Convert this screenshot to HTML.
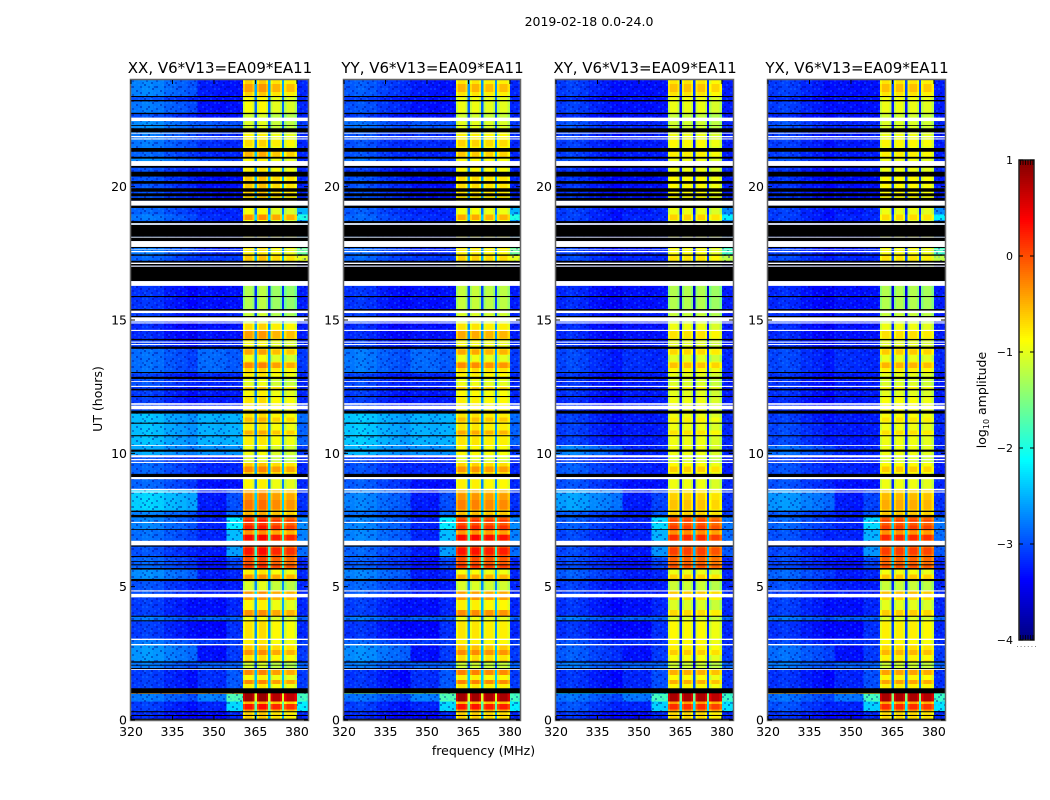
<!DOCTYPE html>
<html lang="en">
<head>
<meta charset="utf-8">
<title>2019-02-18 0.0-24.0</title>
<style>
html,body{margin:0;padding:0;background:#fff;}
svg{display:block;}
text{font-family:"DejaVu Sans","Liberation Sans",sans-serif;fill:#000;}
</style>
</head>
<body>
<svg id="chart" xmlns="http://www.w3.org/2000/svg" width="1050" height="800" viewBox="0 0 1050 800">
  <defs>
    <pattern id="speckle" patternUnits="userSpaceOnUse" width="24" height="14">
      <rect x="0" y="0" width="2" height="2" fill="#000090" opacity=".42"/>
      <rect x="6" y="0" width="2" height="2" fill="#20a0ff" opacity=".25"/>
      <rect x="12" y="2" width="2" height="2" fill="#000090" opacity=".42"/>
      <rect x="18" y="0" width="2" height="2" fill="#20a0ff" opacity=".22"/>
      <rect x="2" y="4" width="2" height="2" fill="#20a0ff" opacity=".25"/>
      <rect x="8" y="4" width="2" height="2" fill="#000090" opacity=".42"/>
      <rect x="16" y="6" width="2" height="2" fill="#000090" opacity=".4"/>
      <rect x="22" y="4" width="2" height="2" fill="#20a0ff" opacity=".22"/>
      <rect x="4" y="8" width="2" height="2" fill="#000090" opacity=".42"/>
      <rect x="10" y="8" width="2" height="2" fill="#20a0ff" opacity=".25"/>
      <rect x="20" y="8" width="2" height="2" fill="#000090" opacity=".4"/>
      <rect x="0" y="12" width="2" height="2" fill="#20a0ff" opacity=".22"/>
      <rect x="14" y="12" width="2" height="2" fill="#20a0ff" opacity=".25"/>
      <rect x="7" y="12" width="2" height="2" fill="#000090" opacity=".4"/>
      <rect x="14" y="6" width="2" height="2" fill="#20a0ff" opacity=".18"/>
      <rect x="18" y="10" width="2" height="2" fill="#20a0ff" opacity=".18"/>
      <rect x="2" y="10" width="2" height="2" fill="#000090" opacity=".35"/>
      <rect x="10" y="2" width="2" height="2" fill="#000090" opacity=".35"/>
      <rect x="20" y="2" width="2" height="2" fill="#000090" opacity=".35"/>
      <rect x="12" y="10" width="2" height="2" fill="#000090" opacity=".35"/>
      <rect x="4" y="2" width="2" height="2" fill="#000090" opacity=".3"/>
      <rect x="22" y="12" width="2" height="2" fill="#000090" opacity=".3"/>
    </pattern>
  </defs>
  <rect x="0" y="0" width="1050" height="800" fill="#fff"/>
  <text x="589" y="26" font-size="12.5" text-anchor="middle">2019-02-18 0.0-24.0</text>
  <text x="483.5" y="755" font-size="12.5" text-anchor="middle">frequency (MHz)</text>
  <text x="102" y="399" font-size="12.5" text-anchor="middle" transform="rotate(-90 102 399)">UT (hours)</text>
  <text x="986" y="400" font-size="12.5" text-anchor="middle" transform="rotate(-90 986 400)">log<tspan font-size="8" dy="3">10</tspan><tspan dy="-3"> amplitude</tspan></text>
</svg>
<script>
// ---- categories and tick labels ----
const panelTitles = ["XX, V6*V13=EA09*EA11","YY, V6*V13=EA09*EA11","XY, V6*V13=EA09*EA11","YX, V6*V13=EA09*EA11"];
const xTickLabels = [320,335,350,365,380];
const yTickLabels = [0,5,10,15,20];
const colorbarTickLabels = [1,0,-1,-2,-3,-4];

// ---- frequency channels (MHz) ----
const freqEdges = [320,324,328,332,336,340,344,348,351,354.5,360.5,361.3,363.9,364.7,365.5,366.3,368.8,369.6,370.4,371.2,373.8,374.6,375.4,376.2,379.2,380,384];
const columnGroups = ["left","left","left","left","left","left","mid","mid","mid","shoulder","b0","b0","b0","gap","b1","b1","b1","gap","b2","b2","b2","gap","b3","b3","b3","right"];
const columnTweaks = [0.1,0.15,0.1,0,-0.05,-0.12,0,0,-0.03,0,-0.2,0,-0.2,0,-0.2,0,-0.2,0,-0.2,0,-0.2,0,-0.2,0,-0.2,0];

// ---- time bins (UT hours, top to bottom) ----
const binEdges = [24,23.4,23.2,22.72,22.46,22.04,21.45,21.05,20.78,20.4,19.6,19.29,18.95,18.75,18,17.41,17.15,16.28,15.26,14.87,14.24,13.92,13,12.8,12.5,12.15,11.6,11.15,10.3,9.93,9.64,9.23,8.67,7.85,7.6,7.13,6.72,6.1,5.7,5.29,4.86,4.6,3.9,3.72,3.05,2.85,2.2,1.95,1.19,0.7,0.33,0];

// ---- log10 amplitude per time bin ----
const leftXX = [-2.85,-3.1,-2.9,-3.1,-2.8,-2.9,-3,-2.8,-3.1,-3.1,
 -3.1,-3,-2.9,-3,-2.9,-3,-3.2,-3.25,-3.2,-3.3,
 -3.2,-2.95,-3.2,-3.1,-3.2,-3.2,-2.55,-2.55,-2.65,-3.1,
 -3,-3,-2.45,-2.85,-2.85,-2.95,-3.1,-3,-2.8,-3.1,
 -3.1,-3.2,-2.9,-3.2,-2.9,-2.75,-2.9,-3.2,-2.9,-3.2,-3.3];
const leftYY = [-3.05,-3.2,-3.1,-3.2,-2.95,-3.1,-3.1,-2.95,-3.2,-3.1,
 -3.1,-3.05,-3,-3,-3,-3,-3.2,-3.25,-3.2,-3.3,
 -3.2,-2.9,-3.2,-3.15,-3.2,-3.2,-2.5,-2.5,-2.6,-3.15,
 -3.1,-3.05,-2.85,-2.95,-2.85,-2.85,-3,-3.05,-2.85,-3,
 -3.05,-3.2,-2.9,-3.25,-3,-2.8,-2.9,-3.25,-2.95,-3.2,-3.3];
const leftXY = [-3.2,-3.3,-3.2,-3.3,-3.1,-3.2,-3.2,-3.1,-3.25,-3.25,
 -3.2,-3.2,-3.2,-3.2,-3.2,-3.15,-3.3,-3.3,-3.25,-3.3,
 -3.25,-3.15,-3.25,-3.25,-3.25,-3.3,-3.2,-3.2,-2.85,-3.2,
 -3.05,-3.1,-2.7,-3.05,-3.05,-3.15,-3.15,-3.15,-3.05,-3.2,
 -3.2,-3.25,-2.9,-3.25,-3.1,-3.05,-2.9,-3.25,-2.95,-3.1,-3.25];
const leftYX = [-3.2,-3.3,-3.2,-3.3,-3.1,-3.2,-3.2,-3.1,-3.25,-3.25,
 -3.2,-3.2,-3.2,-3.2,-3.2,-3.15,-3.3,-3.3,-3.25,-3.3,
 -3.25,-3.15,-3.25,-3.25,-3.25,-3.3,-3.2,-3.15,-2.95,-3.2,
 -3.1,-3.1,-2.75,-3.05,-3,-3.1,-3.15,-3.15,-3,-3.1,
 -3.2,-3.2,-2.9,-3.25,-3.15,-2.95,-2.9,-3.25,-2.95,-3.1,-3.25];
const midCo = [-3.25,-3.3,-3.3,-3.3,-2.95,-3.15,-3.2,-3,-3.2,-3.3,
 -3.25,-3.2,-3.15,-3.2,-3.2,-3.1,-3.3,-3.3,-3.25,-3.3,
 -3.2,-2.85,-3.2,-3.2,-3.25,-3.25,-2.5,-2.5,-2.65,-3.2,
 -3.2,-3.3,-3.25,-3.25,-3.2,-3.2,-3.25,-3.3,-3.25,-3.25,
 -3.25,-3.3,-2.9,-3.35,-3.1,-3.3,-2.9,-3.15,-2.75,-3.2,-3.35];
const midCross = [-3.3,-3.3,-3.3,-3.3,-3.2,-3.25,-3.25,-3.2,-3.25,-3.3,
 -3.25,-3.25,-3.2,-3.25,-3.25,-3.2,-3.3,-3.3,-3.25,-3.3,
 -3.25,-3.15,-3.25,-3.25,-3.25,-3.25,-3.25,-3.25,-3.2,-3.25,
 -3.2,-3.3,-3.25,-3.25,-3.2,-3.2,-3.25,-3.3,-3.25,-3.25,
 -3.25,-3.3,-2.9,-3.35,-3.15,-3.3,-2.9,-3.2,-2.8,-3.2,-3.35];
const shoulderCo = [-3.3,-3.3,-3.3,-3.3,-3,-3.2,-3.2,-3.1,-3.2,-3.3,
 -3.3,-3.2,-3.2,-3.2,-3.2,-3.1,-3.3,-3.3,-3.2,-3.3,
 -3.2,-2.95,-3.2,-3.2,-3.25,-3.25,-2.5,-2.5,-2.65,-3.2,
 -3.2,-3.3,-3,-2.85,-2.2,-2.45,-2.6,-3.05,-3.2,-3.25,
 -3.25,-3.2,-2.9,-3.15,-3.1,-3.1,-2.9,-2.95,-1.75,-2.3,-3.2];
const shoulderCross = [-3.3,-3.3,-3.3,-3.3,-3.2,-3.25,-3.25,-3.2,-3.25,-3.3,
 -3.3,-3.2,-3.2,-3.2,-3.2,-3.2,-3.3,-3.3,-3.25,-3.3,
 -3.25,-3.2,-3.25,-3.25,-3.25,-3.25,-3.25,-3.25,-3.2,-3.25,
 -3.25,-3.3,-3.05,-2.95,-2.3,-2.5,-2.65,-3.05,-3.2,-3.25,
 -3.25,-3.2,-2.9,-3.15,-3.15,-3.1,-2.9,-3,-1.8,-2.35,-3.2];
const rightCo = [-3.2,-3.2,-3.2,-3.2,-3.1,-3.2,-3.2,-3.2,-3.2,-3.2,
 -3.2,-2.5,-2,-2.6,-1.6,-1,-3.2,-3.25,-3.2,-3.25,
 -3.2,-3.1,-3.2,-3.2,-3.2,-3.2,-2.85,-2.9,-3.1,-3.2,
 -3.2,-3.2,-3.15,-3.1,-2.7,-2.75,-2.85,-3.2,-3.2,-3.2,
 -3.2,-3.2,-2.9,-3.2,-3.1,-3.1,-2.9,-3.1,-1.8,-2.2,-3.2];
const rightCross = [-3.25,-3.25,-3.25,-3.25,-3.2,-3.25,-3.25,-3.2,-3.2,-3.25,
 -3.2,-2.7,-2.2,-2.75,-1.8,-1.2,-3.2,-3.25,-3.25,-3.25,
 -3.25,-3.2,-3.25,-3.25,-3.25,-3.25,-3.2,-3.2,-3.2,-3.25,
 -3.25,-3.2,-3.15,-3.1,-2.8,-2.85,-2.95,-3.2,-3.2,-3.2,
 -3.2,-3.2,-2.9,-3.2,-3.15,-3.1,-2.9,-3.15,-1.85,-2.25,-3.2];
const blockXX = [-0.65,-0.9,-0.95,-1.1,-1.05,-0.85,-0.5,-0.85,-0.8,-0.6,
 -0.8,-0.9,-0.35,-0.9,-0.8,-0.6,-1.2,-1.25,-1.15,-0.7,
 -0.9,-0.7,-0.8,-1,-0.85,-0.75,-0.75,-0.8,-0.95,-1.05,
 -0.6,-0.85,-0.45,-0.5,0.05,0.1,0.05,0,-0.5,-0.8,
 -0.35,-0.65,-0.95,-0.75,-0.8,-0.6,-1.1,-0.55,0.85,0.2,-0.65];
const blockYY = [-0.75,-0.95,-1,-1.1,-1,-0.8,-0.6,-0.85,-0.85,-0.7,
 -0.8,-0.9,-0.45,-0.9,-0.8,-0.65,-1.2,-1.15,-1.05,-0.75,
 -0.9,-0.7,-0.8,-0.95,-0.85,-0.8,-0.75,-0.75,-0.85,-1,
 -0.65,-0.8,-0.5,-0.55,0,0.1,0.05,0,-0.6,-0.8,
 -0.4,-0.6,-0.95,-0.75,-0.8,-0.55,-1.1,-0.5,0.85,0.2,-0.65];
const blockXY = [-0.75,-0.95,-1,-1.15,-1.1,-0.95,-0.8,-0.95,-0.95,-0.85,
 -0.9,-0.95,-0.65,-1,-0.9,-0.75,-1.25,-1.25,-1.15,-0.95,
 -1,-0.85,-1,-1.05,-1,-0.95,-0.95,-0.95,-0.95,-1.05,
 -0.85,-0.95,-0.75,-0.65,-0.05,0,-0.1,-0.1,-0.75,-0.95,
 -0.6,-0.9,-1.05,-0.85,-0.85,-0.8,-1.1,-0.65,0.8,0.1,-0.7];
const blockYX = [-0.75,-0.95,-1,-1.1,-1.05,-0.95,-0.8,-0.95,-0.95,-0.85,
 -0.9,-0.95,-0.7,-1,-0.9,-0.75,-1.25,-1.25,-1.15,-0.95,
 -1,-0.8,-1,-1.05,-1,-0.9,-0.9,-0.95,-0.95,-1.05,
 -0.85,-0.95,-0.65,-0.6,-0.05,0,-0.1,-0.1,-0.7,-0.95,
 -0.55,-0.85,-1.05,-0.8,-0.85,-0.7,-1.1,-0.6,0.8,0.1,-0.7];
const blockOffsetsXX = [0,0.05,-0.1,-0.15];
const blockOffsetsYY = [0,0,-0.05,-0.05];
const blockOffsetsXY = [0,0,0,-0.1];
const blockOffsetsYX = [0,0,0,-0.05];
const gapDropPerPanel = [1.9,1.9,2.35,2.25];

// ---- narrow stripes inside the bright blocks: [from UT, to UT, change in log10 amplitude] ----
const blockStripes = [[23.55,23.85,0.25],[22.8,23.2,0.05],[21.5,21.75,0.15],[14.3,14.6,0.3],[13.7,13.9,0.25],[13.2,13.4,0.4],[13.45,13.68,-0.25],[12.42,12.49,0.2],[11.2,11.35,0.2],[10.7,10.85,0.3],[9.3,9.5,0.3],[8.25,8.5,0.15],[7.9,8.25,0.25],[7.44,7.5,0.2],[7.17,7.3,0.2],[6.95,7.1,-0.45],[6.75,6.93,0.25],[6.2,6.45,0.25],[5.71,5.8,0.15],[5.45,5.64,-0.3],[5.3,5.45,0.15],[4.86,5.2,-0.25],[4.5,4.6,0.25],[4.12,4.5,-0.2],[3.9,4.12,0.3],[2.44,2.62,0.25],[2.25,2.44,-0.15],[1.69,1.87,0.25],[1.5,1.69,-0.3],[1.35,1.5,0.25],[1.19,1.35,-0.25],[0.6,0.7,-0.7],[0.4,0.6,0.1],[0.33,0.4,-0.55]];
const stripeWeightPerPanel = [1,1,0.7,0.75];

// ---- narrow interference line just above the strongest band, per panel ----
const interferenceLineUT = [0.97,1];
const interferenceLevels = [-0.4,-1.5,-2.3,-0.5];

// ---- flagged time ranges [start, end] in UT hours ----
const blackRows = [[23.36,23.4],[23.2,23.25],[22.72,22.77],[22.28,22.31],[22.04,22.19],[21.31,21.45],[21.05,21.12],[20.71,20.78],[20.38,20.56],[20.11,20.21],[19.81,19.94],[19.64,19.75],[19.47,19.58],[19.2,19.29],[18.63,18.71],[18.12,18.57],[17.96,18.09],[17.7,17.74],[17.41,17.46],[17.15,17.22],[17.04,17.1],[16.46,17],[15.86,15.9],[15.35,15.41],[15.1,15.15],[14.24,14.29],[13.92,14],[13.01,13.05],[12.79,12.87],[12.36,12.42],[12.11,12.15],[11.49,11.6],[11.11,11.15],[10.64,10.68],[10.06,10.14],[9.11,9.23],[7.8,7.85],[7.6,7.69],[7.13,7.16],[6.5,6.55],[6.11,6.15],[5.93,5.96],[5.8,5.84],[5.64,5.7],[5.21,5.29],[3.87,3.91],[3.7,3.74],[2.15,2.2],[2.04,2.07],[1.91,1.95],[1,1.19],[0.29,0.33],[0.15,0.19],[0,0.05]];
const whiteRows = [[22.46,22.59],[21.99,22.02],[21.85,21.9],[21.77,21.81],[20.78,20.96],[19.29,19.47],[18.57,18.63],[18.09,18.12],[17.74,17.96],[17.63,17.65],[17.54,17.59],[17.1,17.15],[17,17.04],[16.28,16.46],[15.26,15.35],[14.94,15.1],[14.87,14.91],[14.59,14.63],[14.15,14.19],[14.06,14.1],[12.68,12.71],[12.49,12.53],[11.82,11.88],[11.65,11.79],[10.28,10.31],[9.85,9.93],[9.74,9.79],[9.64,9.68],[9.03,9.11],[8.61,8.67],[8.53,8.57],[7.39,7.43],[6.55,6.72],[4.82,4.86],[4.6,4.73],[3,3.05],[2.8,2.85],[1.88,1.91]];

const panelKeys = [
  {left:leftXX,mid:midCo,shoulder:shoulderCo,right:rightCo,block:blockXX,offsets:blockOffsetsXX},
  {left:leftYY,mid:midCo,shoulder:shoulderCo,right:rightCo,block:blockYY,offsets:blockOffsetsYY},
  {left:leftXY,mid:midCross,shoulder:shoulderCross,right:rightCross,block:blockXY,offsets:blockOffsetsXY},
  {left:leftYX,mid:midCross,shoulder:shoulderCross,right:rightCross,block:blockYX,offsets:blockOffsetsYX}
];

// ---- layout and scales ----
const NS = "http://www.w3.org/2000/svg";
const chart = document.getElementById("chart");
const panelLeft = [131,344,556,768];
const panelWidth = [177,176,177,177];
const PANEL_TOP = 80, PANEL_BOTTOM = 720;
const CB_X = 1019, CB_W = 15, CB_TOP = 160, CB_BOTTOM = 640;
const V_MIN = -4, V_MAX = 1;
function xScale(p, mhz){ return panelLeft[p] + (mhz - 320) * 177 / 64; }
function yScale(ut){ return PANEL_BOTTOM - ut * (PANEL_BOTTOM - PANEL_TOP) / 24; }
function cbScale(v){ return CB_BOTTOM - (v - V_MIN) * (CB_BOTTOM - CB_TOP) / (V_MAX - V_MIN); }
function jet(v){
  const t = Math.max(0, Math.min(1, (v - V_MIN) / (V_MAX - V_MIN)));
  const ch = c => Math.round(255 * Math.max(0, Math.min(1, 1.5 - Math.abs(4 * t - c))));
  return "rgb(" + ch(3) + "," + ch(2) + "," + ch(1) + ")";
}
function svgEl(tag, attrs, parent){
  const e = document.createElementNS(NS, tag);
  for (const k in attrs) e.setAttribute(k, attrs[k]);
  parent.appendChild(e);
  return e;
}
function binAt(ut){
  for (let b = 0; b < binEdges.length - 1; b++) if (ut <= binEdges[b] && ut >= binEdges[b+1]) return b;
  return binEdges.length - 2;
}
function cellValue(p, bin, col){
  const g = columnGroups[col], d = panelKeys[p];
  if (g === "gap") return d.block[bin] - gapDropPerPanel[p];
  if (g.charAt(0) === "b") return d.block[bin] + d.offsets[+g.charAt(1)] + columnTweaks[col];
  return d[g][bin] + columnTweaks[col];
}
const minus = n => n < 0 ? "\u2212" + (-n) : String(n);

panelTitles.forEach(function(title, p){
  const left = panelLeft[p], PANEL_W = panelWidth[p];
  const g = svgEl("g", {}, chart);
  
  

  const cells = svgEl("g", {"shape-rendering":"crispEdges"}, g);
  
  
  for (let b = 0; b < binEdges.length - 1; b++) {
    for (let c = 0; c < freqEdges.length - 1; c++) {
      const x0 = xScale(p, freqEdges[c]), x1 = Math.min(xScale(p, freqEdges[c+1]), left + PANEL_W);
      const y0 = yScale(binEdges[b]), y1 = yScale(binEdges[b+1]);
      const cell = svgEl("rect", {x:x0, y:y0, width:x1-x0, height:y1-y0, fill:jet(cellValue(p,b,c))}, cells);
      
      
    }
  }
  blockStripes.forEach(function(s){
    const lo = Math.min(s[0], s[1]), hi = Math.max(s[0], s[1]);
    const bin = binAt((lo + hi) / 2);
    for (let c = 0; c < freqEdges.length - 1; c++) {
      if (columnGroups[c].charAt(0) !== "b") continue;
      const x0 = xScale(p, freqEdges[c]), x1 = xScale(p, freqEdges[c+1]);
      const st = svgEl("rect", {x:x0, y:yScale(hi), width:x1-x0, height:yScale(lo)-yScale(hi), fill:jet(cellValue(p,bin,c) + s[2] * stripeWeightPerPanel[p])}, cells);
      
      
    }
  });
  const rfi = svgEl("rect", {x:left, y:yScale(interferenceLineUT[1]), width:xScale(p,360.5)-left, height:yScale(interferenceLineUT[0])-yScale(interferenceLineUT[1]), fill:jet(interferenceLevels[p])}, cells);
  
  

  const tex1 = svgEl("rect", {x:left, y:PANEL_TOP, width:xScale(p,360.5)-left, height:PANEL_BOTTOM-PANEL_TOP, fill:"url(#speckle)"}, g);
  
  
  const tex2 = svgEl("rect", {x:xScale(p,380), y:PANEL_TOP, width:left+PANEL_W-xScale(p,380), height:PANEL_BOTTOM-PANEL_TOP, fill:"url(#speckle)"}, g);
  
  

  blackRows.forEach(function(r){
    const m = svgEl("rect", {x:left, y:yScale(r[1]), width:PANEL_W, height:yScale(r[0])-yScale(r[1]), fill:"#000"}, g);
    
    
  });
  whiteRows.forEach(function(r){
    const m = svgEl("rect", {x:left, y:yScale(r[1]), width:PANEL_W, height:yScale(r[0])-yScale(r[1]), fill:"#fff"}, g);
    
    
  });

  const frame = svgEl("rect", {x:left-0.5, y:PANEL_TOP-0.5, width:PANEL_W+1, height:PANEL_BOTTOM-PANEL_TOP+1, fill:"none", stroke:"#666", "stroke-width":1.5}, g);
  
  

  const ttl = svgEl("text", {x:left+PANEL_W/2+0.5, y:73, "font-size":15, "text-anchor":"middle"}, g);
  
  
  ttl.textContent = title;

  xTickLabels.forEach(function(v){
    const x = xScale(p, v);
    const t1 = svgEl("line", {x1:x, x2:x, y1:PANEL_BOTTOM, y2:PANEL_BOTTOM-4, stroke:"#000"}, g);
    
    
    const t2 = svgEl("line", {x1:x, x2:x, y1:PANEL_TOP, y2:PANEL_TOP+4, stroke:"#000"}, g);
    
    
    const l = svgEl("text", {x:x, y:736, "font-size":12.5, "text-anchor":"middle"}, g);
    
    
    l.textContent = v;
  });
  yTickLabels.forEach(function(v){
    const y = yScale(v);
    const t1 = svgEl("line", {x1:left, x2:left+4, y1:y, y2:y, stroke:"#000"}, g);
    
    
    const t2 = svgEl("line", {x1:left+PANEL_W, x2:left+PANEL_W-4, y1:y, y2:y, stroke:"#000"}, g);
    
    
    const l = svgEl("text", {x:left-4, y:y+4.5, "font-size":12.5, "text-anchor":"end"}, g);
    
    
    l.textContent = v;
  });
});

// ---- colorbar ----
const cb = svgEl("g", {}, chart);


const cbRamp = svgEl("g", {"shape-rendering":"crispEdges"}, cb);


for (let y = CB_TOP; y < CB_BOTTOM; y += 2) {
  const v = V_MIN + (CB_BOTTOM - y - 1) * (V_MAX - V_MIN) / (CB_BOTTOM - CB_TOP);
  const s = svgEl("rect", {x:CB_X, y:y, width:CB_W, height:2, fill:jet(v)}, cbRamp);
  
  
}
const cbFrame = svgEl("rect", {x:CB_X, y:CB_TOP, width:CB_W, height:CB_BOTTOM-CB_TOP, fill:"none", stroke:"#222", "stroke-width":1.5}, cb);


colorbarTickLabels.forEach(function(v){
  const y = cbScale(v);
  const t1 = svgEl("line", {x1:CB_X, x2:CB_X+4, y1:y, y2:y, stroke:"#000"}, cb);
  
  
  const t2 = svgEl("line", {x1:CB_X+CB_W, x2:CB_X+CB_W-4, y1:y, y2:y, stroke:"#000"}, cb);
  
  
  const l = svgEl("text", {x:1013, y:y+4, "font-size":11, "text-anchor":"end"}, cb);
  
  
  l.textContent = minus(v);
});
for (let i = 0; i < 6; i++) {
  const x = CB_X + 1.5 + i * 2.5;
  const top = svgEl("line", {x1:x, x2:x, y1:CB_TOP, y2:CB_TOP+5, stroke:"#000", "stroke-width":0.8}, cb);
  
  
  const bot = svgEl("line", {x1:x, x2:x, y1:CB_BOTTOM, y2:CB_BOTTOM-5, stroke:"#000", "stroke-width":0.8}, cb);
  
  
  const dot = svgEl("rect", {x:CB_X - 2 + i * 3.6, y:646, width:1, height:1, fill:"#888"}, cb);
  
  
}
</script>
</body>
</html>
